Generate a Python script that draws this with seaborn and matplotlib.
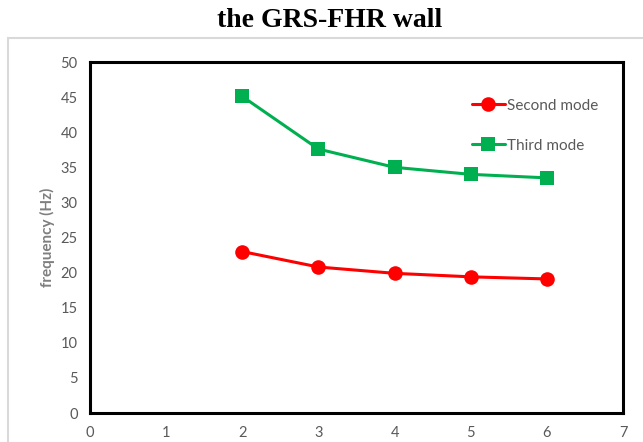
import pandas as pd
import seaborn as sns
import matplotlib.pyplot as plt
from matplotlib.patches import Rectangle

# values
positions = [2, 3, 4, 5, 6]
second_mode = [23.0, 20.8, 19.9, 19.4, 19.1]
third_mode = [45.1, 37.6, 35.0, 34.0, 33.5]
series_names = ['Second mode', 'Third mode']
y_ticks = [0, 5, 10, 15, 20, 25, 30, 35, 40, 45, 50]
x_ticks = [0, 1, 2, 3, 4, 5, 6, 7]

data = pd.DataFrame({
	'x': positions * 2,
	'frequency': second_mode + third_mode,
	'mode': [series_names[0]] * len(positions) + [series_names[1]] * len(positions),
})

sns.set_style('white')
plt.rcParams['font.family'] = ['Lato', 'DejaVu Sans']

fig = plt.figure(figsize=(6.43, 4.42), dpi=100)
ax = fig.add_axes([0.14, 0.0656, 0.829, 0.794])

# light grey chart-area border
fig.patches.append(Rectangle((8 / 643, -0.1), 1.0, (442 - 38) / 442 + 0.1,
	transform=fig.transFigure, fill=False, edgecolor='#d9d9d9', linewidth=1.5))

sns.lineplot(data=data, x='x', y='frequency', hue='mode', style='mode',
	palette={'Second mode': '#ff0000', 'Third mode': '#00b050'},
	markers={'Second mode': 'o', 'Third mode': 's'}, dashes=False,
	markersize=10.5, markeredgewidth=0, linewidth=2.2, ax=ax)

ax.set_xlim(0, 7)
ax.set_ylim(0, 50)
ax.set_xticks(x_ticks)
ax.set_yticks(y_ticks)
ax.tick_params(axis='both', length=0, labelsize=10.5, labelcolor='#595959')
ax.tick_params(axis='y', pad=9)
ax.tick_params(axis='x', pad=9)
ax.set_xlabel('')
ax.set_ylabel('frequency (Hz)', fontsize=11, color='#7f7f7f', fontweight='bold', labelpad=4)

for spine in ax.spines.values():
	spine.set_visible(True)
	spine.set_color('black')
	spine.set_linewidth(2.2)

leg = ax.legend(loc='upper left', bbox_to_anchor=(0.69, 0.935), frameon=False,
	fontsize=11, handlelength=2.2, handletextpad=0.1, labelspacing=1.7)
for text in leg.get_texts():
	text.set_color('#595959')

fig.text(0.513, 0.953, 'the GRS-FHR wall', ha='center', va='center',
	fontsize=20, fontweight='bold', family='Liberation Serif', color='black')

plt.savefig('out.png', dpi=100)
